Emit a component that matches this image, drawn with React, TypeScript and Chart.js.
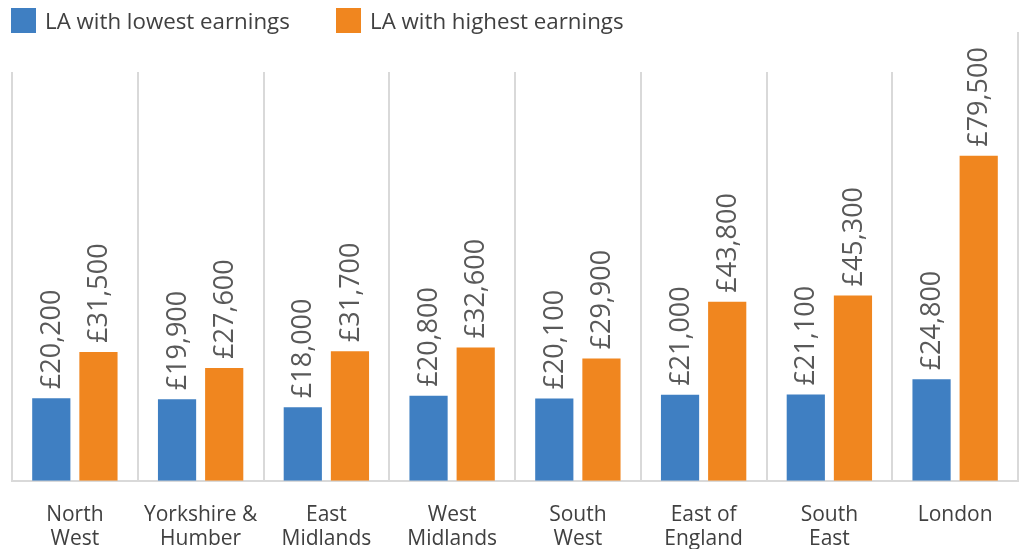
import React, { useEffect, useRef } from "react";
import { Chart, registerables } from "chart.js";

Chart.register(...registerables);

const categories: string[][] = [
  ["North", "West"],
  ["Yorkshire &", "Humber"],
  ["East", "Midlands"],
  ["West", "Midlands"],
  ["South", "West"],
  ["East of", "England"],
  ["South", "East"],
  ["London"],
];
const lowestEarnings = [20200, 19900, 18000, 20800, 20100, 21000, 21100, 24800];
const highestEarnings = [31500, 27600, 31700, 32600, 29900, 43800, 45300, 79500];
const seriesNames = ["LA with lowest earnings", "LA with highest earnings"];
const seriesColors = ["#3F7FC2", "#F0861F"];
const yMax = 100000;

const FONT = "'Open Sans', sans-serif";
const TEXT = "#404040";
const GRID = "#D9D9D9";

const valueLabels = {
  id: "valueLabels",
  afterDatasetsDraw(chart: any) {
    const ctx = chart.ctx;
    ctx.save();
    ctx.font = `27px ${FONT}`;
    ctx.fillStyle = "#595959";
    ctx.textAlign = "left";
    ctx.textBaseline = "middle";
    chart.data.datasets.forEach((ds: any, di: number) => {
      const meta = chart.getDatasetMeta(di);
      meta.data.forEach((bar: any, i: number) => {
        const v = ds.data[i] as number;
        const txt = "£" + v.toLocaleString("en-GB");
        ctx.save();
        ctx.translate(bar.x, bar.y - 9);
        ctx.rotate(-Math.PI / 2);
        ctx.fillText(txt, 0, 1);
        ctx.restore();
      });
    });
    ctx.restore();
  },
};

// the reference's right-hand frame line sits slightly higher than the others
const rightEdgeLine = {
  id: "rightEdgeLine",
  beforeDatasetsDraw(chart: any) {
    const { ctx, chartArea } = chart;
    ctx.save();
    ctx.strokeStyle = GRID;
    ctx.lineWidth = 2;
    ctx.beginPath();
    ctx.moveTo(chartArea.right, chartArea.top - 40);
    ctx.lineTo(chartArea.right, chartArea.bottom - 42);
    ctx.stroke();
    ctx.restore();
  },
};

export default function App() {
  const ref = useRef<HTMLCanvasElement>(null);
  useEffect(() => {
    if (!ref.current) return;
    const chart = new Chart(ref.current, {
      type: "bar",
      data: {
        labels: categories,
        datasets: [
          {
            label: seriesNames[0],
            data: lowestEarnings,
            backgroundColor: seriesColors[0],
            categoryPercentage: 0.75,
            barPercentage: 0.81,
          },
          {
            label: seriesNames[1],
            data: highestEarnings,
            backgroundColor: seriesColors[1],
            categoryPercentage: 0.75,
            barPercentage: 0.81,
          },
        ],
      },
      options: {
        animation: false,
        responsive: false,
        maintainAspectRatio: false,
        layout: { padding: { top: 72, left: 12, right: 6, bottom: 0 } },
        plugins: {
          legend: { display: false },
          tooltip: { enabled: false },
        },
        scales: {
          x: {
            offset: true,
            grid: {
              display: true,
              offset: true,
              color: (c: any) => (c.index === categories.length ? "rgba(0,0,0,0)" : GRID),
              lineWidth: 2,
              drawTicks: false,
            },
            border: { display: true, color: GRID, width: 2 },
            ticks: {
              color: TEXT,
              font: { family: FONT, size: 21, lineHeight: 1.15 },
              padding: 22,
              maxRotation: 0,
              autoSkip: false,
            },
          },
          y: {
            display: false,
            min: 0,
            max: yMax,
          },
        },
      },
      plugins: [rightEdgeLine, valueLabels],
    });
    return () => chart.destroy();
  }, []);

  const legendLefts = [11, 336];

  return (
    <div style={{ position: "fixed", left: 0, top: 0, width: 1024, height: 549, background: "#fff", overflow: "hidden" }}>
      <canvas ref={ref} width={1024} height={573} style={{ position: "absolute", left: 0, top: 0 }} />
      {seriesNames.map((name, i) => (
        <div
          key={name}
          style={{
            position: "absolute",
            left: legendLefts[i],
            top: 8,
            display: "flex",
            alignItems: "center",
            fontFamily: FONT,
            fontSize: 22.3,
            color: TEXT,
            whiteSpace: "nowrap",
          }}
        >
          <span style={{ display: "inline-block", width: 25, height: 25, background: seriesColors[i], marginRight: 9 }} />
          <span style={{ lineHeight: "25px" }}>{name}</span>
        </div>
      ))}
    </div>
  );
}
